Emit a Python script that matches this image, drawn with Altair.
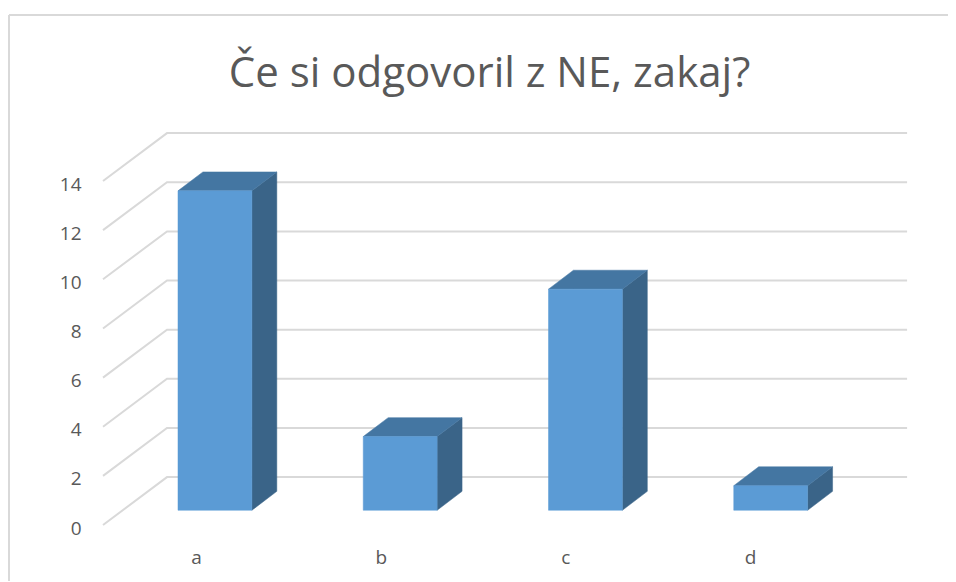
import altair as alt
import pandas as pd

categories = ["a", "b", "c", "d"]
values = [13, 3, 9, 1]
y_ticks = [0, 2, 4, 6, 8, 10, 12, 14]
title_text = "Če si odgovoril z NE, zakaj?"

# Faux-3D geometry, in data units (x: one category step, y: one count)
BAR_LEFT = -0.0975
BAR_WIDTH = 0.40
BAR_FLOOR = 0.60
BAR_DX = 0.135
BAR_DY = 0.77
WALL_LEFT = -0.5035
WALL_DX = 0.3465
WALL_DY = 1.95
WALL_RIGHT = 3.85
STEP = 1.003

GRID = "#d9d9d9"
TEXT = "#595959"
FRONT = "#5b9bd5"
TOP = "#4476a2"
SIDE = "#3a6488"
FONT = "Open Sans"

grid_rows = []
for k in y_ticks:
    grid_rows += [
        {"k": k, "x": WALL_LEFT, "y": k},
        {"k": k, "x": WALL_LEFT + WALL_DX, "y": k + WALL_DY},
        {"k": k, "x": WALL_RIGHT, "y": k + WALL_DY},
    ]
grid_df = pd.DataFrame(grid_rows)

front_rows, top_rows, side_rows = [], [], []
for i, (c, v) in enumerate(zip(categories, values)):
    x0 = i * STEP + BAR_LEFT
    x1 = x0 + BAR_WIDTH
    base = BAR_FLOOR
    high = BAR_FLOOR + v
    front_rows += [{"c": c, "x": x0, "y": base, "y2": high}, {"c": c, "x": x1, "y": base, "y2": high}]
    side_rows += [
        {"c": c, "x": x1, "y": base, "y2": high},
        {"c": c, "x": x1 + BAR_DX, "y": base + BAR_DY, "y2": high + BAR_DY},
    ]
    top_rows += [
        {"c": c, "x": x0, "y": high, "y2": high},
        {"c": c, "x": x0 + BAR_DX, "y": high, "y2": high + BAR_DY},
        {"c": c, "x": x1, "y": high, "y2": high + BAR_DY},
        {"c": c, "x": x1 + BAR_DX, "y": high + BAR_DY, "y2": high + BAR_DY},
    ]

x_scale = alt.Scale(domain=[-1.0125, 4.0715], nice=False, zero=False)
y_scale = alt.Scale(domain=[-2.279, 20.757], nice=False, zero=False)

x_axis = alt.Axis(
    values=[0, 1, 2, 3],
    labelExpr="['a','b','c','d'][datum.value]",
    title=None, grid=False, ticks=False, domain=False,
    offset=-33, labelPadding=0, labelFont=FONT, labelFontSize=19, labelColor=TEXT,
)
y_axis = alt.Axis(
    values=y_ticks,
    title=None, grid=False, ticks=False, domain=False,
    offset=-74, labelPadding=2, labelOffset=3, labelFont=FONT, labelFontSize=19, labelColor=TEXT,
)

X = alt.X("x:Q", scale=x_scale, axis=x_axis)
Y = alt.Y("y:Q", scale=y_scale, axis=y_axis)

grid = alt.Chart(grid_df).mark_line(color=GRID, strokeWidth=2).encode(x=X, y=Y, detail="k:N")


def face(rows, color):
    return (
        alt.Chart(pd.DataFrame(rows))
        .mark_area(color=color, stroke=color, strokeWidth=0.5, interpolate="linear")
        .encode(x=X, y=Y, y2="y2:Q", detail="c:N")
    )


frame_top = alt.Chart(pd.DataFrame({"a": [0]})).mark_rule(color=GRID, strokeWidth=2).encode(
    x=alt.value(0), x2=alt.value(939), y=alt.value(0)
)
frame_left = alt.Chart(pd.DataFrame({"a": [0]})).mark_rule(color=GRID, strokeWidth=2).encode(
    x=alt.value(0), y=alt.value(0), y2=alt.value(566)
)

chart = (
    alt.layer(grid, frame_top, frame_left, face(side_rows, SIDE), face(top_rows, TOP), face(front_rows, FRONT))
    .properties(
        width=939,
        height=566,
        padding={"left": 1, "top": 7, "right": 0, "bottom": 0},
        autosize=alt.AutoSizeParams(type="none"),
        title=alt.TitleParams(
            title_text, font=FONT, fontSize=42, fontWeight="normal", color=TEXT,
            anchor="middle", offset=-82, dx=11,
        ),
    )
    .configure_view(stroke=None)
)

chart.save("out.html", embed_options={"renderer": "svg", "actions": False})
